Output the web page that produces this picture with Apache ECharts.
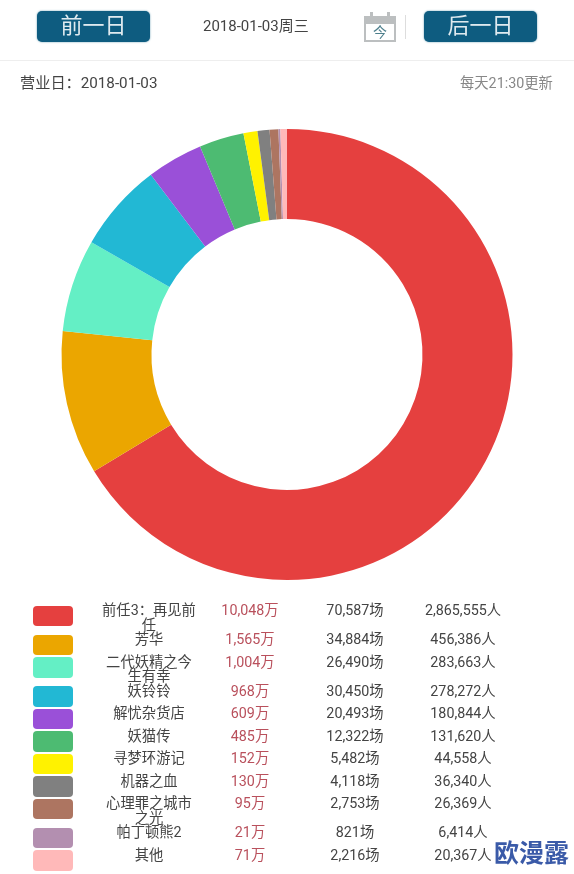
<!DOCTYPE html>
<html>
<head>
<meta charset="utf-8">
<script src="https://cdn.jsdelivr.net/npm/echarts@6/dist/echarts.min.js"></script>
<style>
  html, body { margin: 0; padding: 0; background: #fff; }
  body { width: 574px; height: 874px; position: relative; overflow: hidden; font-family: Roboto, "Noto Sans CJK SC", sans-serif; color: #444; }
  #chart { position: absolute; left: 0; top: 0; width: 574px; height: 874px; }
  .abs { position: absolute; white-space: nowrap; }
  .btn { top: 11px; width: 113px; height: 31px; line-height: 29px; border-radius: 5px; background: #0e5c80; color: #dfeaef; font-size: 22px; text-align: center; box-shadow: 0 0 2px #5f97ae; }
  #rows { position: absolute; left: 0; top: 603px; width: 574px; }
  .row { position: relative; min-height: 22.5px; }
  .swatch { position: absolute; left: 33px; top: 2.5px; width: 40px; height: 20.5px; border-radius: 4px; }
  .cell { position: absolute; top: 0; width: 100px; margin-left: -50px; text-align: center; font-size: 14.3px; line-height: 14.5px; white-space: nowrap; }
  .name { position: relative; display: block; margin-left: 99px; width: 100px; text-align: center; font-size: 14.3px; line-height: 14.5px; }
</style>
</head>
<body>
<div id="chart"></div>

<div class="abs btn" style="left:37px">前一日</div>
<div class="abs" style="left:203px;top:17px;font-size:15px;line-height:18px">2018-01-03周三</div>
<!-- calendar icon -->
<div class="abs" style="left:364px;top:16px;width:32px;height:26px;border:2px solid #bcbfc0;border-top-width:8px;box-sizing:border-box;text-align:center;font-size:14px;line-height:17px;color:#4d7f8c">今</div>
<div class="abs" style="left:370px;top:12px;width:3px;height:6px;background:#bcbfc0"></div>
<div class="abs" style="left:387px;top:12px;width:3px;height:6px;background:#bcbfc0"></div>
<div class="abs" style="left:405px;top:15px;width:1px;height:24px;background:#ddd"></div>
<div class="abs btn" style="left:424px">后一日</div>
<div class="abs" style="left:0;top:60px;width:574px;height:1px;background:#eee"></div>
<div class="abs" style="left:20px;top:74px;font-size:15.2px;line-height:18px">营业日：2018-01-03</div>
<div class="abs" style="left:460px;top:74px;font-size:14.3px;line-height:18px;color:#888">每天21:30更新</div>

<div id="rows"></div>
<div class="abs" style="left:493px;top:841px;width:77px;height:25px;line-height:25px;background:#fff;color:#3a5aa8;font-size:25px;font-weight:700;text-align:center">欧漫露</div>

<script>
var names = ["前任3：再见前任", "芳华", "二代妖精之今生有幸", "妖铃铃", "解忧杂货店", "妖猫传", "寻梦环游记", "机器之血", "心理罪之城市之光", "帕丁顿熊2", "其他"];
var gross = [10048, 1565, 1004, 968, 609, 485, 152, 130, 95, 21, 71];
var shows = [70587, 34884, 26490, 30450, 20493, 12322, 5482, 4118, 2753, 821, 2216];
var people = [2865555, 456386, 283663, 278272, 180844, 131620, 44558, 36340, 26369, 6414, 20367];
var colors = ["#e5403f", "#eba600", "#64efc5", "#22b8d4", "#9a50d8", "#4dbb72", "#fff200", "#808080", "#ad7561", "#b38fb0", "#ffb9b9"];

var fmt = function (n) { return n.toLocaleString("en-US"); };

var rowsEl = document.getElementById("rows");
names.forEach(function (name, i) {
  var row = document.createElement("div");
  row.className = "row";
  row.innerHTML =
    '<div class="swatch" style="background:' + colors[i] + '"></div>' +
    '<div class="name">' + name + "</div>" +
    '<div class="cell" style="left:250px;color:#b9505c">' + fmt(gross[i]) + "万</div>" +
    '<div class="cell" style="left:355px">' + fmt(shows[i]) + "场</div>" +
    '<div class="cell" style="left:463px">' + fmt(people[i]) + "人</div>";
  rowsEl.appendChild(row);
});

var myChart = echarts.init(document.getElementById("chart"));
var option = {
  animation: false,
  color: colors,
  series: [
    {
      type: "pie",
      center: [287, 354.5],
      radius: [135.5, 225.5],
      startAngle: 90,
      silent: true,
      label: { show: false },
      labelLine: { show: false },
      data: names.map(function (name, i) {
        return { name: name, value: gross[i] };
      }),
    },
  ],
};
myChart.setOption(option);
</script>
</body>
</html>
